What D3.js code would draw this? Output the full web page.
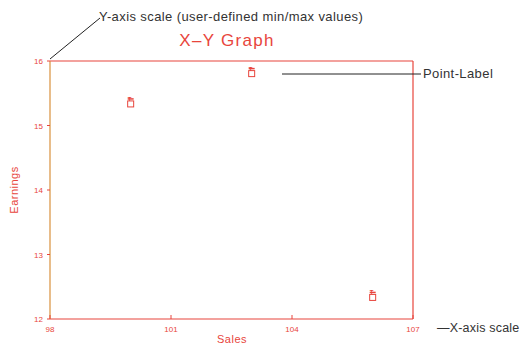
<!DOCTYPE html>
<meta charset="utf-8">
<head>
<style>
body { margin: 0; background: #fff; }
text { font-family: "Liberation Sans", Arial, sans-serif; }
.note { fill: #333; font-size: 13px; letter-spacing: 0.4px; }
.red { fill: #e8453c; }
</style>
</head>
<body>
<script src="https://d3js.org/d3.v7.min.js"></script>
<div id="chart"></div>
<script>
  // data
  var sales = [100, 103, 106];
  var earnings = [15.35, 15.82, 12.35];
  var xTicks = [98, 101, 104, 107];
  var yTicks = [12, 13, 14, 15, 16];

  var width = 522, height = 346;
  var red = "#e8453c", orange = "#d9903c";

  var svg = d3.select("#chart").append("svg")
      .attr("width", width)
      .attr("height", height);

  var x = d3.scaleLinear().domain([98, 107]).range([50, 413]);
  var y = d3.scaleLinear().domain([12, 16]).range([319, 61]);

  // frame
  svg.append("line").attr("x1", x(98)).attr("x2", x(107)).attr("y1", y(16)).attr("y2", y(16))
      .attr("stroke", red).attr("stroke-width", 1.2);
  svg.append("line").attr("x1", x(98)).attr("x2", x(107)).attr("y1", y(12)).attr("y2", y(12))
      .attr("stroke", red).attr("stroke-width", 1.2);
  svg.append("line").attr("x1", x(107)).attr("x2", x(107)).attr("y1", y(16)).attr("y2", y(12))
      .attr("stroke", red).attr("stroke-width", 1.2);
  svg.append("line").attr("x1", x(98)).attr("x2", x(98)).attr("y1", y(16)).attr("y2", y(12))
      .attr("stroke", orange).attr("stroke-width", 1.2);

  // y axis ticks + labels
  svg.selectAll(".yt").data(yTicks).enter().append("line")
      .attr("x1", x(98) - 3).attr("x2", x(98))
      .attr("y1", function(d) { return y(d); }).attr("y2", function(d) { return y(d); })
      .attr("stroke", red);
  svg.selectAll(".yl").data(yTicks).enter().append("text")
      .attr("class", "red")
      .attr("x", x(98) - 7).attr("y", function(d) { return y(d) + 3; })
      .attr("text-anchor", "end").attr("font-size", 8)
      .text(function(d) { return d; });

  // x axis ticks + labels
  svg.selectAll(".xt").data(xTicks).enter().append("line")
      .attr("x1", function(d) { return x(d); }).attr("x2", function(d) { return x(d); })
      .attr("y1", y(12) - 4).attr("y2", y(12))
      .attr("stroke", red);
  svg.selectAll(".xl").data(xTicks).enter().append("text")
      .attr("class", "red")
      .attr("x", function(d) { return x(d); }).attr("y", y(12) + 13)
      .attr("text-anchor", "middle").attr("font-size", 8)
      .text(function(d) { return d; });

  // axis titles
  svg.append("text").attr("class", "red")
      .attr("x", 232).attr("y", 343).attr("text-anchor", "middle").attr("font-size", 11)
      .attr("letter-spacing", 0.5)
      .text("Sales");
  svg.append("text").attr("class", "red")
      .attr("transform", "translate(18,190) rotate(-90)")
      .attr("text-anchor", "middle").attr("font-size", 11)
      .attr("letter-spacing", 0.5)
      .text("Earnings");

  // title
  svg.append("text").attr("class", "red")
      .attr("x", 227).attr("y", 46).attr("text-anchor", "middle")
      .attr("font-size", 17).attr("letter-spacing", 1.3)
      .text("X\u2013Y Graph");

  // points
  var pts = svg.selectAll(".pt").data(sales).enter().append("g")
      .attr("transform", function(d, i) { return "translate(" + x(d) + "," + y(earnings[i]) + ")"; });
  pts.append("rect").attr("x", -3).attr("y", -2).attr("width", 6).attr("height", 6)
      .attr("fill", "none").attr("stroke", red).attr("stroke-width", 1);
  pts.append("text").attr("class", "red").attr("x", -1).attr("y", -2)
      .attr("text-anchor", "middle").attr("font-size", 6).attr("font-weight", "bold")
      .text("T");
  pts.append("line").attr("x1", -3).attr("x2", 3).attr("y1", -4).attr("y2", -4)
      .attr("stroke", red).attr("stroke-width", 1.5);

  // annotations
  svg.append("line").attr("x1", 100).attr("y1", 18).attr("x2", x(98)).attr("y2", y(16) - 2)
      .attr("stroke", "#222").attr("stroke-width", 1);
  svg.append("text").attr("class", "note").attr("x", 99).attr("y", 21)
      .text("Y-axis scale (user-defined min/max values)");

  svg.append("line").attr("x1", 282).attr("y1", 74).attr("x2", 421).attr("y2", 74)
      .attr("stroke", "#222").attr("stroke-width", 1);
  svg.append("text").attr("class", "note").attr("x", 423).attr("y", 78)
      .text("Point-Label");

  svg.append("text").attr("class", "note").attr("x", 437).attr("y", 332)
      .style("font-size", "12.5px").style("letter-spacing", "0.2px")
      .text("\u2014X-axis scale");
</script>
</body>
